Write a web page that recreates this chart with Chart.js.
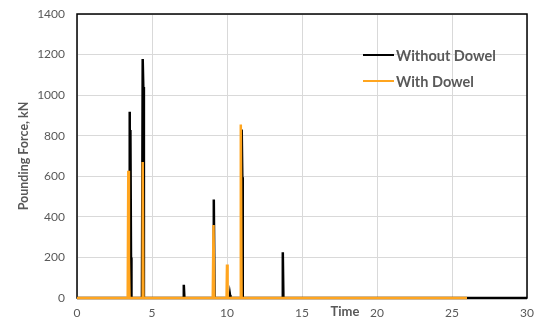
<!DOCTYPE html>
<html><head><meta charset="utf-8">
<script src="https://cdn.jsdelivr.net/npm/chart.js@4/dist/chart.umd.min.js"></script>
<style>html,body{margin:0;padding:0;background:#fff}#wrap{width:538px;height:320px}</style>
</head><body><div id="wrap"><canvas id="c" width="538" height="320"></canvas></div>
<script>
const seriesNames = ["Without Dowel", "With Dowel"];
const timeWithout = [0, 3.40, 3.43, 3.46, 3.48, 3.50, 3.53, 3.56, 3.60, 3.63, 4.33, 4.38, 4.42, 4.46, 7.08, 7.12, 7.16, 9.08, 9.12, 9.17, 10.18, 10.20, 10.23, 10.95, 10.98, 11.02, 11.05, 13.68, 13.72, 13.76, 30];
const forceWithout = [0, 0, 130, 0, 0, 918, 300, 828, 200, 0, 0, 1178, 1040, 0, 0, 65, 0, 0, 485, 0, 0, 15, 0, 0, 830, 595, 0, 0, 225, 0, 0];
const timeWith = [0, 3.38, 3.42, 3.46, 3.50, 4.34, 4.38, 4.43, 9.05, 9.10, 9.15, 9.97, 10.00, 10.04, 10.88, 10.92, 10.97, 26];
const forceWith = [0, 0, 627, 200, 0, 0, 670, 0, 0, 360, 0, 0, 165, 0, 0, 855, 0, 0];
const xTicks = [0, 5, 10, 15, 20, 25, 30];
const yTicks = [0, 200, 400, 600, 800, 1000, 1200, 1400];
const colors = ["#000000", "#FFA51F"];

const pts = (t, f) => t.map((x, i) => ({x: x, y: f[i]}));
const FONT = "Lato, 'Open Sans', sans-serif";
const GRAY = "#595959";

const overlay = {
  id: 'overlay',
  beforeDatasetsDraw(chart) {
    const {ctx, chartArea: a} = chart;
    ctx.save();
    ctx.strokeStyle = '#000';
    ctx.lineWidth = 1.5;
    ctx.strokeRect(a.left, a.top, a.right - a.left, a.bottom - a.top);
    ctx.restore();
  },
  afterDatasetsDraw(chart) {
    const {ctx} = chart;
    ctx.save();
    const lx = 363, ly = [55, 81];
    ctx.font = "bold 14.5px " + FONT;
    ctx.textBaseline = 'middle';
    seriesNames.forEach((n, i) => {
      ctx.strokeStyle = colors[i];
      ctx.lineWidth = 2;
      ctx.beginPath(); ctx.moveTo(lx, ly[i]); ctx.lineTo(lx + 31, ly[i]); ctx.stroke();
      ctx.fillStyle = GRAY;
      ctx.fillText(n, lx + 33, ly[i] + 1);
    });
    ctx.font = "bold 13px " + FONT;
    ctx.textAlign = 'center';
    ctx.fillText("Time", 345, 312);
    ctx.restore();
  }
};

new Chart(document.getElementById('c'), {
  type: 'line',
  data: {
    datasets: [
      {label: seriesNames[0], data: pts(timeWithout, forceWithout), borderColor: colors[0], borderWidth: 2.5, pointRadius: 0, tension: 0, order: 2, clip: false},
      {label: seriesNames[1], data: pts(timeWith, forceWith), borderColor: colors[1], borderWidth: 2.5, pointRadius: 0, tension: 0, order: 1, clip: false}
    ]
  },
  options: {
    responsive: false, animation: false,
    layout: {padding: {top: 14, right: 11, left: 0, bottom: 0}},
    plugins: {legend: {display: false}, tooltip: {enabled: false}},
    scales: {
      x: {
        type: 'linear', min: 0, max: 30,
        afterBuildTicks: s => { s.ticks = xTicks.map(v => ({value: v})); },
        afterFit: s => { s.height = 22; s.paddingLeft = 0; s.paddingRight = 0; },
        grid: {color: '#d9d9d9', lineWidth: 1, drawTicks: false},
        border: {display: false},
        ticks: {color: GRAY, font: {family: FONT, size: 12}, padding: 8, maxRotation: 0, callback: v => String(v)}
      },
      y: {
        min: 0, max: 1400,
        afterBuildTicks: s => { s.ticks = yTicks.map(v => ({value: v})); },
        afterFit: s => { s.width = 77; s.paddingTop = 0; s.paddingBottom = 0; },
        grid: {color: '#d9d9d9', lineWidth: 1, drawTicks: false},
        border: {display: false},
        ticks: {color: GRAY, font: {family: FONT, size: 12}, padding: 12, callback: v => String(v)},
        title: {display: true, text: 'Pounding Force, kN', color: GRAY, font: {family: FONT, size: 12.5, weight: 'bold'}, padding: {top: 16, bottom: 0}}
      }
    }
  },
  plugins: [overlay]
});
</script></body></html>
